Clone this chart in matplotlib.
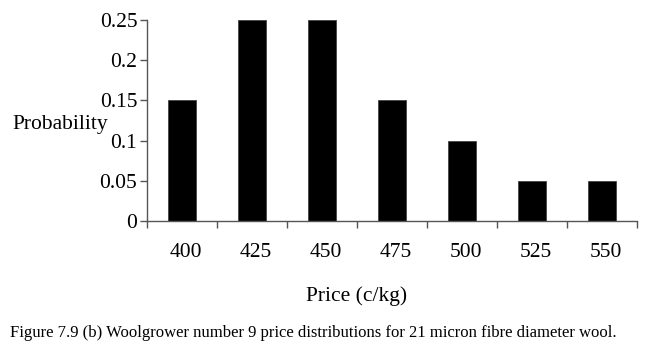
import matplotlib
matplotlib.use("Agg")
import matplotlib.pyplot as plt
import matplotlib.transforms as mtransforms

categories = ["400", "425", "450", "475", "500", "525", "550"]
probability = [0.15, 0.25, 0.25, 0.15, 0.10, 0.05, 0.05]
yticks = [0, 0.05, 0.1, 0.15, 0.2, 0.25]
ytick_labels = ["0", "0.05", "0.1", "0.15", "0.2", "0.25"]

plt.rcParams['font.family'] = ['Liberation Serif', 'DejaVu Serif']

fig = plt.figure(figsize=(6.46, 3.51), dpi=100)
ax = fig.add_axes([147/646, 1-221/351, (637-147)/646, (221-20)/351])

x = list(range(len(categories)))
ax.bar(x, probability, width=0.4, color='black', edgecolor='#444444', linewidth=0.6)

ax.set_xlim(-0.5, len(categories) - 0.5)
ax.set_ylim(0, 0.25)
ax.set_yticks(yticks)
ax.set_yticklabels(ytick_labels, fontsize=15.5)
ax.set_xticks([i - 0.5 for i in range(len(categories) + 1)])
ax.set_xticklabels([])
ax.set_xticks(x, minor=True)
ax.set_xticklabels(categories, minor=True, fontsize=15.5)
ax.tick_params(axis='x', which='minor', length=0, pad=16)
ax.tick_params(axis='x', which='major', length=5, width=1, color='#555555', direction='out')
ax.tick_params(axis='y', length=5, width=1, color='#555555', direction='out', pad=2)

shift = mtransforms.ScaledTranslation(4/100, 0, fig.dpi_scale_trans)
for lbl in ax.get_xticklabels(minor=True):
    lbl.set_transform(lbl.get_transform() + shift)

for s in ['top', 'right']:
    ax.spines[s].set_visible(False)
for s in ['left', 'bottom']:
    ax.spines[s].set_color('#555555')
    ax.spines[s].set_linewidth(1)

fig.text(12/646, 1-125/351, "Probability", fontsize=15.5, ha='left', va='center')
fig.text(357/646, 1-296/351, "Price (c/kg)", fontsize=15.5, ha='center', va='center')
fig.text(10/646, 1-333/351, "Figure 7.9 (b) Woolgrower number 9 price distributions for 21 micron fibre diameter wool.",
         fontsize=12, ha='left', va='center')

fig.savefig("out.png", dpi=100)
